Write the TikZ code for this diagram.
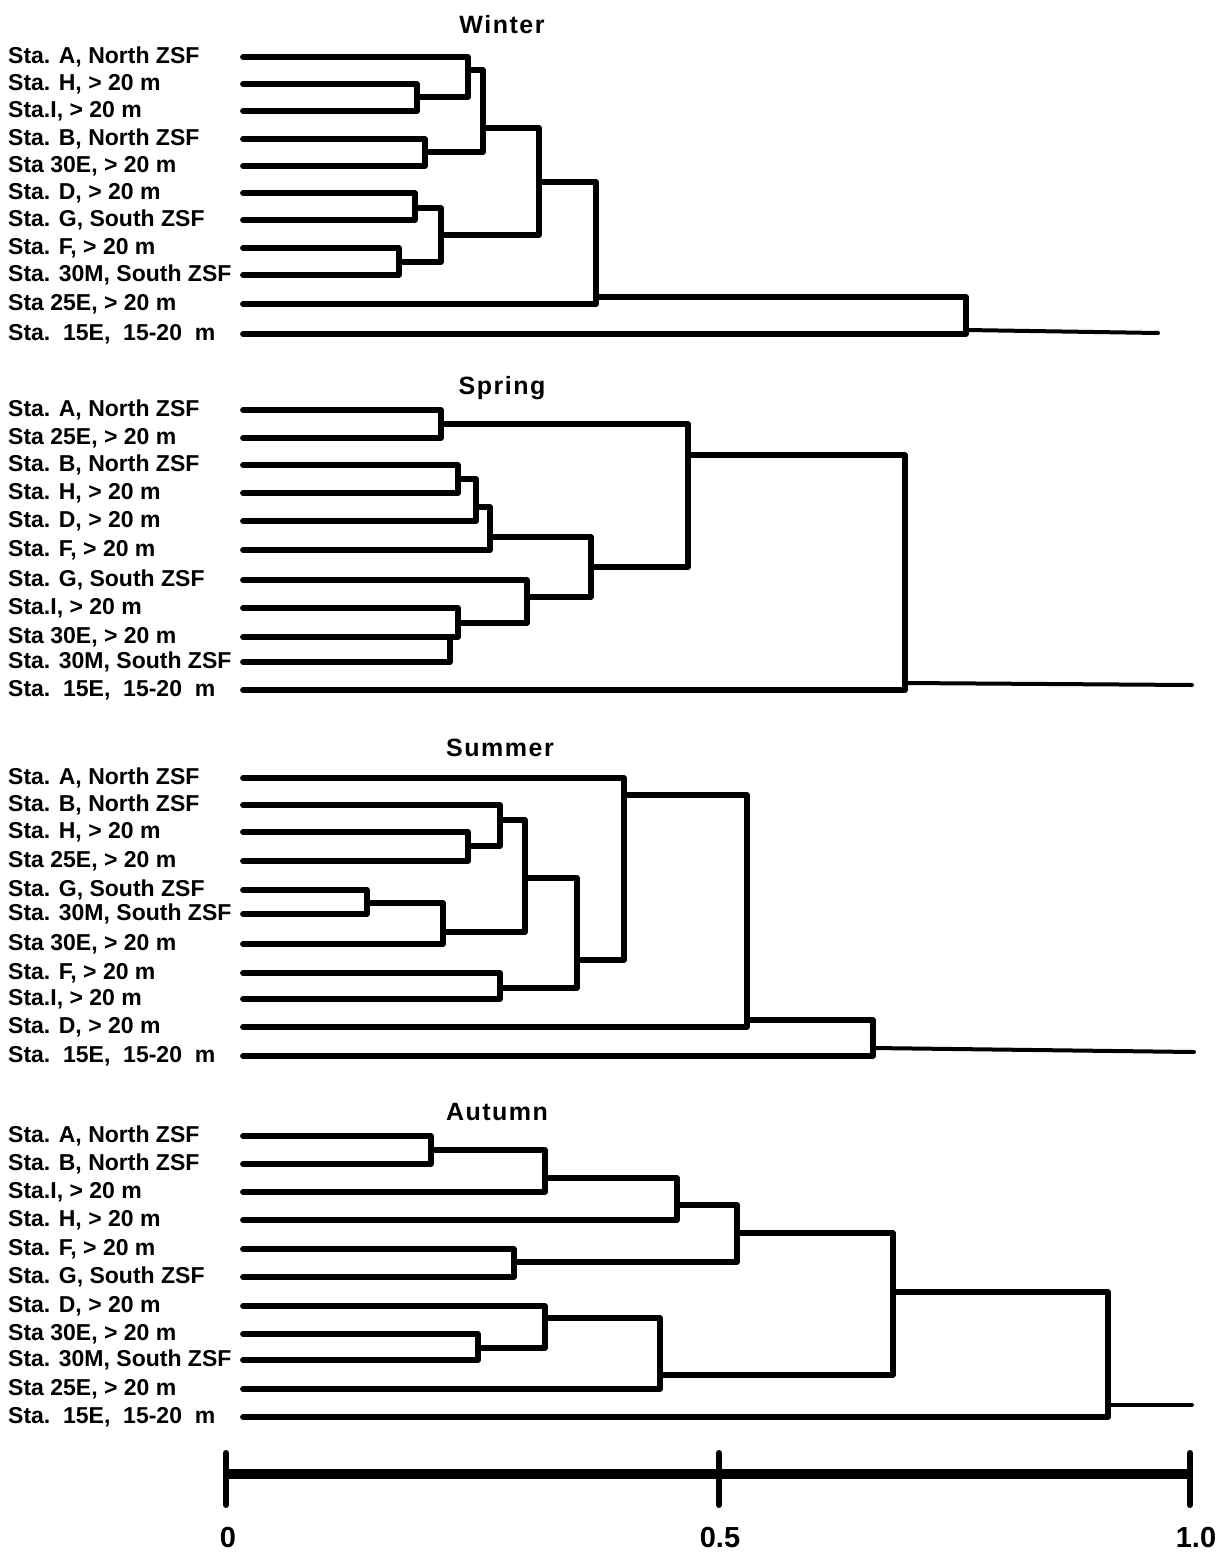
\documentclass[tikz,border=0pt]{standalone}
\usepackage{fontspec}
\setmainfont{Liberation Sans}
\tikzset{
  lbl/.style={anchor=west, inner sep=0pt, font=\fontsize{23}{26}\selectfont\bfseries},
  ttl/.style={inner sep=0pt, font=\fontsize{25}{28}\selectfont\bfseries\addfontfeatures{LetterSpace=6}},
  num/.style={inner sep=0pt, font=\fontsize{29}{32}\selectfont\bfseries},
  br/.style={line width=5.8pt, line join=round, line cap=round},
  tailline/.style={line width=4pt, line cap=round},
  barline/.style={line width=10pt},
  tickline/.style={line width=6pt, line cap=round}
}
\newcommand{\dmerge}[3]{\draw[br] (#1) -| (#2) |- (#3);}
\begin{document}
\begin{tikzpicture}[x=1pt,y=-1pt]
\fill[white] (0,0) rectangle (1218,1555);
\useasboundingbox (0,0) rectangle (1218,1555);

% ================= WINTER =================
\node[ttl] (tw) at (502,25) {Winter};
\foreach \n/\y/\t in {1/57/{Sta. A, North ZSF},2/84/{Sta. H, > 20 m},3/111/{Sta.I, > 20 m},4/139/{Sta. B, North ZSF},5/166/{Sta 30E, > 20 m},6/193/{Sta. D, > 20 m},7/220/{Sta. G, South ZSF},8/248/{Sta. F, > 20 m},9/275/{Sta. 30M, South ZSF},10/304/{Sta 25E, > 20 m},11/334/{Sta.\ \ 15E,\ \ 15-20\ \ m}}{
  \node[lbl] (lw\n) at (8,\y) {\t};
  \coordinate (w\n) at (243,\y);
}
\coordinate (wHI) at (417,97);
\coordinate (wAHI) at (468,70);
\coordinate (wB30) at (425,152);
\coordinate (wG1) at (483,128);
\coordinate (wDG) at (415,208);
\coordinate (wF30) at (399,262);
\coordinate (wG2) at (441,235);
\coordinate (wG3) at (539,182);
\coordinate (wG4) at (596,297);
\coordinate (wRoot) at (966,330);
\coordinate (wEnd) at (1158,333);
\dmerge{w2}{wHI}{w3}
\dmerge{w1}{wAHI}{wHI}
\dmerge{w4}{wB30}{w5}
\dmerge{wAHI}{wG1}{wB30}
\dmerge{w6}{wDG}{w7}
\dmerge{w8}{wF30}{w9}
\dmerge{wDG}{wG2}{wF30}
\dmerge{wG1}{wG3}{wG2}
\dmerge{wG3}{wG4}{w10}
\dmerge{wG4}{wRoot}{w11}
\draw[tailline] (wRoot) -- (wEnd);

% ================= SPRING =================
\node[ttl] (ts) at (502,388) {Spring};
\foreach \n/\y/\t in {1/410/{Sta. A, North ZSF},2/438/{Sta 25E, > 20 m},3/465/{Sta. B, North ZSF},4/493/{Sta. H, > 20 m},5/521/{Sta. D, > 20 m},6/550/{Sta. F, > 20 m},7/580/{Sta. G, South ZSF},8/608/{Sta.I, > 20 m},9/637/{Sta 30E, > 20 m},10/662/{Sta. 30M, South ZSF},11/690/{Sta.\ \ 15E,\ \ 15-20\ \ m}}{
  \node[lbl] (ls\n) at (8,\y) {\t};
  \coordinate (s\n) at (243,\y);
}
\coordinate (sA25) at (441,424);
\coordinate (sBH) at (458,479);
\coordinate (sBHD) at (476,507);
\coordinate (sBHDF) at (490,537);
\coordinate (sI30) at (458,623);
\coordinate (s30M) at (450,637);
\coordinate (sGI) at (527,597);
\coordinate (sMid) at (591,567);
\coordinate (sTop) at (688,455);
\coordinate (sRoot) at (905,683);
\coordinate (sEnd) at (1192,685);
\dmerge{s1}{sA25}{s2}
\dmerge{s3}{sBH}{s4}
\dmerge{sBH}{sBHD}{s5}
\dmerge{sBHD}{sBHDF}{s6}
\dmerge{s8}{sI30}{s9}
\draw[br] (s10) -| (s30M);
\dmerge{s7}{sGI}{sI30}
\dmerge{sBHDF}{sMid}{sGI}
\dmerge{sA25}{sTop}{sMid}
\dmerge{sTop}{sRoot}{s11}
\draw[tailline] (sRoot) -- (sEnd);

% ================= SUMMER =================
\node[ttl] (tu) at (500,748) {Summer};
\foreach \n/\y/\t in {1/778/{Sta. A, North ZSF},2/805/{Sta. B, North ZSF},3/832/{Sta. H, > 20 m},4/861/{Sta 25E, > 20 m},5/890/{Sta. G, South ZSF},6/914/{Sta. 30M, South ZSF},7/944/{Sta 30E, > 20 m},8/973/{Sta. F, > 20 m},9/999/{Sta.I, > 20 m},10/1027/{Sta. D, > 20 m},11/1056/{Sta.\ \ 15E,\ \ 15-20\ \ m}}{
  \node[lbl] (lu\n) at (8,\y) {\t};
  \coordinate (u\n) at (243,\y);
}
\coordinate (uH25) at (468,846);
\coordinate (uBH) at (500,820);
\coordinate (uG30M) at (367,903);
\coordinate (uG30E) at (443,932);
\coordinate (uC1) at (525,878);
\coordinate (uFI) at (500,988);
\coordinate (uC2) at (577,960);
\coordinate (uC3) at (624,795);
\coordinate (uC4) at (747,1020);
\coordinate (uRoot) at (873,1048);
\coordinate (uEnd) at (1194,1052);
\dmerge{u3}{uH25}{u4}
\dmerge{u2}{uBH}{uH25}
\dmerge{u5}{uG30M}{u6}
\dmerge{uG30M}{uG30E}{u7}
\dmerge{uBH}{uC1}{uG30E}
\dmerge{u8}{uFI}{u9}
\dmerge{uC1}{uC2}{uFI}
\dmerge{u1}{uC3}{uC2}
\dmerge{uC3}{uC4}{u10}
\dmerge{uC4}{uRoot}{u11}
\draw[tailline] (uRoot) -- (uEnd);

% ================= AUTUMN =================
\node[ttl] (ta) at (497,1112) {Autumn};
\foreach \n/\y/\t in {1/1136/{Sta. A, North ZSF},2/1164/{Sta. B, North ZSF},3/1192/{Sta.I, > 20 m},4/1220/{Sta. H, > 20 m},5/1249/{Sta. F, > 20 m},6/1277/{Sta. G, South ZSF},7/1306/{Sta. D, > 20 m},8/1334/{Sta 30E, > 20 m},9/1360/{Sta. 30M, South ZSF},10/1389/{Sta 25E, > 20 m},11/1417/{Sta.\ \ 15E,\ \ 15-20\ \ m}}{
  \node[lbl] (la\n) at (8,\y) {\t};
  \coordinate (a\n) at (243,\y);
}
\coordinate (aAB) at (431,1150);
\coordinate (aABI) at (545,1178);
\coordinate (aABIH) at (677,1205);
\coordinate (aFG) at (514,1262);
\coordinate (aC1) at (737,1233);
\coordinate (a30) at (478,1348);
\coordinate (aD30) at (545,1318);
\coordinate (aD25) at (660,1375);
\coordinate (aC2) at (893,1292);
\coordinate (aRoot) at (1108,1405);
\coordinate (aEnd) at (1192,1405);
\dmerge{a1}{aAB}{a2}
\dmerge{aAB}{aABI}{a3}
\dmerge{aABI}{aABIH}{a4}
\dmerge{a5}{aFG}{a6}
\dmerge{aABIH}{aC1}{aFG}
\dmerge{a8}{a30}{a9}
\dmerge{a7}{aD30}{a30}
\dmerge{aD30}{aD25}{a10}
\dmerge{aC1}{aC2}{aD25}
\dmerge{aC2}{aRoot}{a11}
\draw[tailline] (aRoot) -- (aEnd);

% ================= SCALE =================
\coordinate (b0) at (226,1474);
\coordinate (b5) at (719,1474);
\coordinate (b1) at (1190,1474);
\draw[barline] (b0) -- (b1);
\foreach \c in {b0,b5,b1}{
  \draw[tickline] ([yshift=21pt]\c) -- ([yshift=-31pt]\c);
}
\node[num] (n0) at (228,1537) {0};
\node[num] (n5) at (720,1537) {0.5};
\node[num] (n1) at (1196,1537) {1.0};
\end{tikzpicture}
\end{document}
